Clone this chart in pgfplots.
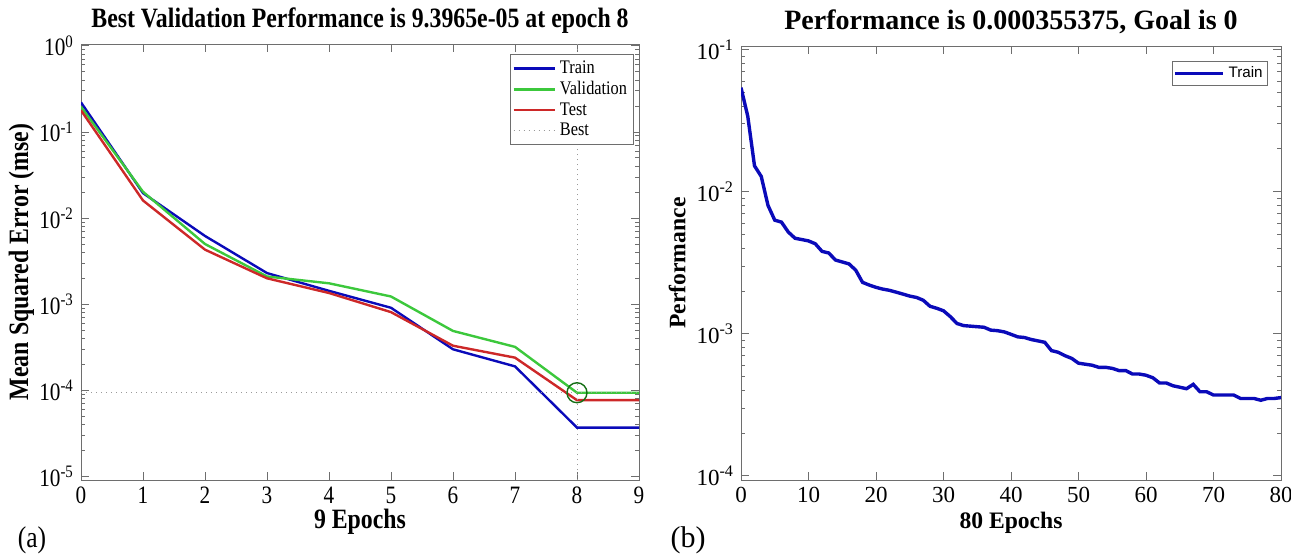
\documentclass[border=0pt]{standalone}
\usepackage{pgfplots}
\pgfplotsset{compat=1.18}
\usepackage{pgfplotstable}
\usepackage{fontspec}
\setmainfont{Liberation Serif}
\newfontfamily\narrowserif{Liberation Serif}[FakeStretch=0.85]
\newfontfamily\legsans{Liberation Sans}
\definecolor{trainblue}{RGB}{10,10,185}
\definecolor{valgreen}{RGB}{60,200,60}
\definecolor{testred}{RGB}{205,40,40}
\definecolor{bestgreen}{RGB}{20,110,20}
\definecolor{axgray}{RGB}{110,110,110}

\pgfplotstableread{
x y
0 0.22
1 0.0195
2 0.0062
3 0.0023
4 0.00143
5 0.00091
6 0.00030
7 0.00019
8 0.000037
9 0.000037
}\trainA
\pgfplotstableread{
x y
0 0.196
1 0.0202
2 0.0050
3 0.0021
4 0.00175
5 0.00123
6 0.00049
7 0.00032
8 0.000093965
9 0.000093965
}\valA
\pgfplotstableread{
x y
0 0.178
1 0.016
2 0.0043
3 0.0020
4 0.00135
5 0.00081
6 0.00033
7 0.00024
8 0.000077
9 0.000077
}\testA
\pgfplotstableread{
x y
0 0.054
1 0.034
2 0.0152
3 0.0128
4 0.0080
5 0.0063
6 0.0061
7 0.0052
8 0.0047
9 0.0046
10 0.0045
11 0.0043
12 0.0038
13 0.0037
14 0.0033
15 0.0032
16 0.0031
17 0.0028
18 0.0023
19 0.0022
20 0.00212
21 0.00206
22 0.00202
23 0.00196
24 0.0019
25 0.00184
26 0.0018
27 0.00172
28 0.00156
29 0.00151
30 0.00145
31 0.00132
32 0.00118
33 0.00114
34 0.00113
35 0.00112
36 0.00111
37 0.00106
38 0.00105
39 0.00103
40 0.00099
41 0.00095
42 0.00094
43 0.00091
44 0.00089
45 0.00087
46 0.00076
47 0.00074
48 0.0007
49 0.00067
50 0.00062
51 0.00061
52 0.0006
53 0.00058
54 0.00058
55 0.00057
56 0.00055
57 0.00055
58 0.00052
59 0.00052
60 0.00051
61 0.00049
62 0.00045
63 0.00045
64 0.00043
65 0.00042
66 0.00041
67 0.00044
68 0.00039
69 0.00039
70 0.00037
71 0.00037
72 0.00037
73 0.00037
74 0.00035
75 0.00035
76 0.00035
77 0.00034
78 0.00035
79 0.00035
80 0.000355
}\trainB

\begin{document}
\begin{tikzpicture}
\useasboundingbox (0pt,0pt) rectangle (645.5pt,-277pt);
% ---------------- (a) ----------------
\begin{axis}[
  at={(40.5pt,-240pt)}, anchor=south west,
  scale only axis, width=279pt, height=218pt,
  xmin=0, xmax=9, ymode=log, ymin=9.12e-6, ymax=1.047,
  xtick={0,...,9},
  ytick={1e-5,1e-4,1e-3,1e-2,1e-1,1},
  yticklabels={10\textsuperscript{-5},10\textsuperscript{-4},10\textsuperscript{-3},10\textsuperscript{-2},10\textsuperscript{-1},10\textsuperscript{0}},
  /pgf/number format/assume math mode=true,
  tick align=inside, major tick length=4pt, minor tick length=2pt,
  axis line style={axgray}, every tick/.style={axgray},
  tick label style={font=\narrowserif\fontsize{12.5}{14}\selectfont, black},
  title={Best Validation Performance is 9.3965e-05 at epoch 8},
  title style={font=\narrowserif\bfseries\fontsize{14}{16}\selectfont, at={(0.5,1)}, anchor=base, yshift=2.5pt},
  xlabel={9 Epochs}, ylabel={Mean Squared Error (mse)},
  xlabel style={font=\narrowserif\bfseries\fontsize{14}{16}\selectfont, at={(0.5,0)}, anchor=base, yshift=-24pt},
  ylabel style={font=\narrowserif\bfseries\fontsize{14}{16}\selectfont, at={(-0.107,0.5)}, anchor=center},
  legend style={at={(0.99,0.977)}, anchor=north east, draw=axgray, font=\narrowserif\fontsize{9.6}{10.5}\selectfont, inner sep=1pt, row sep=-1.5pt, cells={anchor=west}},
  legend image code/.code={\draw[#1] (0pt,0pt) -- (20.5pt,0pt);},
]
\addplot[trainblue, line width=1.2pt] table {\trainA};
\addlegendentry{Train}
\addplot[valgreen, line width=1.2pt] table {\valA};
\addlegendentry{Validation}
\addplot[testred, line width=1.2pt] table {\testA};
\addlegendentry{Test}
\addplot[black!40, dotted, line width=0.5pt] coordinates {(0,0.000093965) (9,0.000093965)};
\addlegendentry{Best}
\addplot[black!40, dotted, line width=0.5pt, forget plot] coordinates {(8,9.12e-6) (8,1.047)};
\addplot[bestgreen, only marks, mark=o, mark size=5pt, mark options={line width=0.7pt}, forget plot] coordinates {(8,0.000093965)};
\end{axis}
% ---------------- (b) ----------------
\begin{axis}[
  at={(370.5pt,-240pt)}, anchor=south west,
  scale only axis, width=270pt, height=217pt,
  xmin=0, xmax=80, ymode=log, ymin=9.33e-5, ymax=0.106,
  xtick={0,10,...,80},
  ytick={1e-4,1e-3,1e-2,1e-1},
  yticklabels={10\textsuperscript{-4},10\textsuperscript{-3},10\textsuperscript{-2},10\textsuperscript{-1}},
  /pgf/number format/assume math mode=true,
  tick align=inside, major tick length=4pt, minor tick length=2pt,
  axis line style={axgray}, every tick/.style={axgray},
  tick label style={font=\fontsize{11.5}{13}\selectfont, black},
  title={Performance is 0.000355375, Goal is 0},
  title style={font=\bfseries\fontsize{14}{16}\selectfont, at={(0.5,1)}, anchor=base, yshift=2.5pt},
  xlabel={80 Epochs}, ylabel={Performance},
  xlabel style={font=\bfseries\fontsize{11.8}{14}\selectfont, at={(0.5,0)}, anchor=base, yshift=-24pt},
  ylabel style={font=\bfseries\fontsize{11.8}{14}\selectfont, at={(-0.118,0.5)}, anchor=center},
  legend style={at={(0.976,0.965)}, anchor=north east, draw=axgray, font=\legsans\fontsize{7.6}{9}\selectfont, inner sep=0.5pt},
  legend image code/.code={\draw[#1] (0pt,0pt) -- (24pt,0pt);},
]
\addplot[trainblue, line width=1.7pt] table {\trainB};
\addlegendentry{Train}
\end{axis}
\node[font=\narrowserif\fontsize{15}{17}\selectfont] at (16pt,-270pt) {(a)};
\node[font=\fontsize{15}{17}\selectfont] at (344pt,-270pt) {(b)};
\end{tikzpicture}
\end{document}
